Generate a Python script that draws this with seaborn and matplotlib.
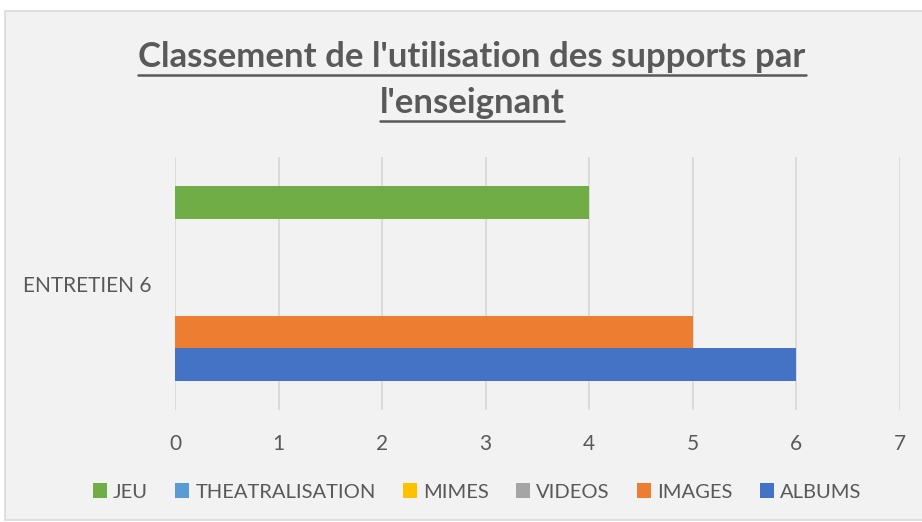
import matplotlib.pyplot as plt
import pandas as pd
import seaborn as sns
from matplotlib.patches import Rectangle
from matplotlib.lines import Line2D

# data
supports = ['JEU', 'THEATRALISATION', 'MIMES', 'VIDEOS', 'IMAGES', 'ALBUMS']
valeurs = [4, 0, 0, 0, 5, 6]
entretien = ['ENTRETIEN 6'] * len(supports)
couleurs = ['#70AD47', '#5B9BD5', '#FFC000', '#A5A5A5', '#ED7D31', '#4472C4']
ticks_x = [0, 1, 2, 3, 4, 5, 6, 7]

df = pd.DataFrame({'entretien': entretien, 'support': supports, 'valeur': valeurs})

sns.set_style('white')
plt.rcParams['font.family'] = ['Lato', 'DejaVu Sans']
gris = '#595959'

fig = plt.figure(figsize=(9.22, 5.22), dpi=100)
fig.patch.set_facecolor('white')
# chart area frame
fig.patches.append(Rectangle((5 / 922, 2 / 522), 1.0, 509 / 522, transform=fig.transFigure,
                             facecolor='#F2F2F2', edgecolor='#D9D9D9', linewidth=1.2, zorder=-5))

axes = fig.add_axes([175 / 922, 112 / 522, 725 / 922, 253 / 522])
axes.set_facecolor('none')
sns.barplot(data=df, y='entretien', x='valeur', hue='support', hue_order=supports,
            palette=couleurs, saturation=1, width=0.767, linewidth=0, orient='h', ax=axes,
            legend=True)

axes.set_xlim(0, 7)
axes.set_xticks(ticks_x)
axes.grid(axis='x', color='#D9D9D9', linewidth=1.3)
axes.set_axisbelow(True)
for s in axes.spines.values():
    s.set_visible(False)
axes.tick_params(axis='both', length=0, labelsize=15, colors=gris)
axes.tick_params(axis='x', pad=17)
axes.tick_params(axis='y', pad=17)
axes.set_xlabel('')
axes.set_ylabel('')

handles, labels = axes.get_legend_handles_labels()
axes.legend_.remove()
fig.legend(handles, labels, loc='center', bbox_to_anchor=(477 / 922, 30 / 522), ncol=6,
           frameon=False, fontsize=14.5, labelcolor=gris, handlelength=0.7, handleheight=0.7,
           handletextpad=0.3, columnspacing=1.35)

t1 = fig.text(472 / 922, 1 - 57 / 522, "Classement de l'utilisation des supports par",
              ha='center', va='center', fontsize=25, fontweight='bold', color=gris)
t2 = fig.text(472 / 922, 1 - 103 / 522, "l'enseignant",
              ha='center', va='center', fontsize=25, fontweight='bold', color=gris)

# underline the title lines
fig.canvas.draw()
r = fig.canvas.get_renderer()
for t in (t1, t2):
    bb = t.get_window_extent(r).transformed(fig.transFigure.inverted())
    y = bb.y0 - 0.003
    fig.add_artist(Line2D([bb.x0, bb.x1], [y, y], transform=fig.transFigure,
                          color=gris, linewidth=1.8))

fig.savefig('out.png', dpi=100)
